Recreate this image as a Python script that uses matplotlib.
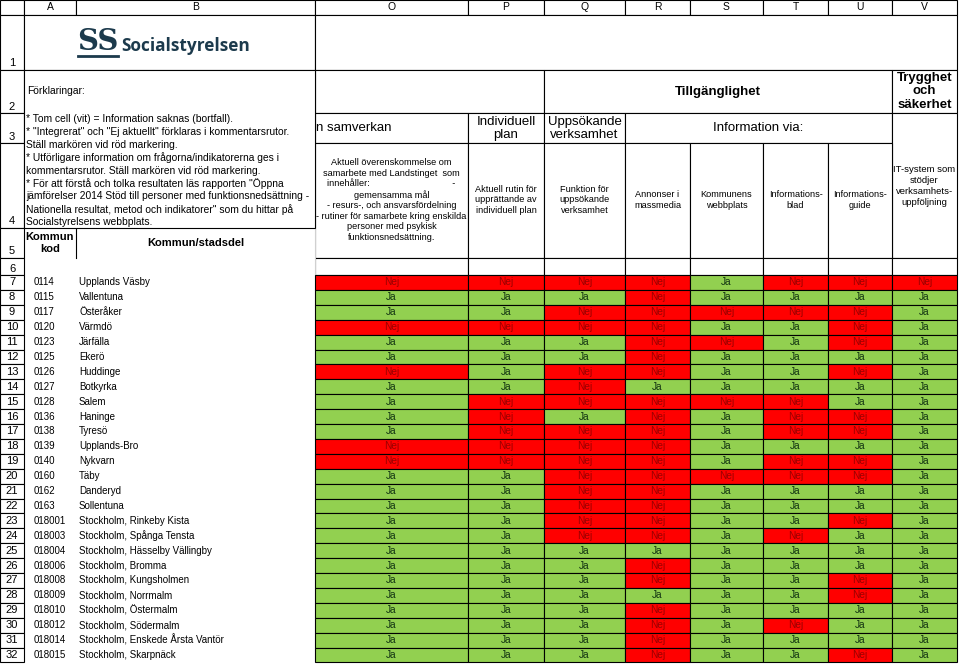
import matplotlib
matplotlib.use("Agg")
import matplotlib.pyplot as plt
from matplotlib.patches import Rectangle
from matplotlib import font_manager

names_avail = {f.name for f in font_manager.fontManager.ttflist}
SANS = "Liberation Sans" if "Liberation Sans" in names_avail else "DejaVu Sans"
NARROW = "Liberation Sans Narrow" if "Liberation Sans Narrow" in names_avail else SANS
plt.rcParams["font.family"] = [SANS, "DejaVu Sans"]

# ---- data ----
kommunkod = ["0114", "0115", "0117", "0120", "0123", "0125", "0126", "0127", "0128",
             "0136", "0138", "0139", "0140", "0160", "0162", "0163", "018001", "018003",
             "018004", "018006", "018008", "018009", "018010", "018012", "018014", "018015"]
kommun = ["Upplands Väsby", "Vallentuna", "Österåker", "Värmdö", "Järfälla", "Ekerö",
          "Huddinge", "Botkyrka", "Salem", "Haninge", "Tyresö", "Upplands-Bro", "Nykvarn",
          "Täby", "Danderyd", "Sollentuna", "Stockholm, Rinkeby Kista",
          "Stockholm, Spånga Tensta", "Stockholm, Hässelby Vällingby", "Stockholm, Bromma",
          "Stockholm, Kungsholmen", "Stockholm, Norrmalm", "Stockholm, Östermalm",
          "Stockholm, Södermalm", "Stockholm, Enskede Årsta Vantör", "Stockholm, Skarpnäck"]

overenskommelse = "Nej Ja Ja Nej Ja Ja Nej Ja Ja Ja Ja Nej Nej Ja Ja Ja Ja Ja Ja Ja Ja Ja Ja Ja Ja Ja".split()
rutin_ip = "Nej Ja Ja Nej Ja Ja Ja Ja Nej Nej Nej Nej Nej Ja Ja Ja Ja Ja Ja Ja Ja Ja Ja Ja Ja Ja".split()
uppsokande = "Nej Ja Nej Nej Ja Ja Nej Nej Nej Ja Nej Nej Nej Nej Nej Nej Nej Nej Ja Ja Ja Ja Ja Ja Ja Ja".split()
annonser = "Nej Nej Nej Nej Nej Nej Nej Ja Nej Nej Nej Nej Nej Nej Nej Nej Nej Nej Ja Nej Nej Ja Nej Nej Nej Nej".split()
webbplats = "Ja Ja Nej Ja Nej Ja Ja Ja Nej Ja Ja Ja Ja Nej Ja Ja Ja Ja Ja Ja Ja Ja Ja Ja Ja Ja".split()
infoblad = "Nej Ja Nej Ja Ja Ja Ja Ja Nej Nej Nej Ja Nej Nej Ja Ja Ja Nej Ja Ja Ja Ja Ja Nej Ja Ja".split()
infoguide = "Nej Ja Nej Nej Nej Ja Nej Ja Ja Nej Nej Ja Nej Nej Ja Ja Nej Ja Ja Ja Nej Nej Ja Ja Ja Nej".split()
it_system = "Nej Ja Ja Ja Ja Ja Ja Ja Ja Ja Ja Ja Ja Ja Ja Ja Ja Ja Ja Ja Ja Ja Ja Ja Ja Ja".split()

svar = [overenskommelse, rutin_ip, uppsokande, annonser, webbplats, infoblad, infoguide, it_system]

col_letters = ["A", "B", "O", "P", "Q", "R", "S", "T", "U", "V"]
beskrivning = [
    "Aktuell överenskommelse om\nsamarbete med Landstinget  som\ninnehåller:                                 -\n"
    "gemensamma mål\n- resurs-, och ansvarsfördelning\n- rutiner för samarbete kring enskilda\n"
    "personer med psykisk\nfunktionsnedsättning.",
    "Aktuell rutin för\nupprättande av\nindividuell plan",
    "Funktion för\nuppsökande\nverksamhet",
    "Annonser i\nmassmedia",
    "Kommunens\nwebbplats",
    "Informations-\nblad",
    "Informations-\nguide",
]
forklaringar = [
    '* Tom cell (vit) = Information saknas (bortfall).',
    '* "Integrerat" och "Ej aktuellt" förklaras i kommentarsrutor.',
    'Ställ markören vid röd markering.',
    '* Utförligare information om frågorna/indikatorerna ges i',
    'kommentarsrutor. Ställ markören vid röd markering.',
    '* För att förstå och tolka resultaten läs rapporten "Öppna',
    'jämförelser 2014 Stöd till personer med funktionsnedsättning -',
    'Nationella resultat, metod och indikatorer" som du hittar på',
    'Socialstyrelsens webbplats.',
]

# ---- layout (pixels) ----
xe = [0, 24, 76, 315, 468, 544, 625, 690, 763, 828, 892, 957]   # column edges
ye = [0, 15, 70, 113, 143, 228, 258, 275]                         # band, rows 1-6
rh = 14.9
GREEN = "#92D050"
RED = "#FF0000"
LW = 0.8

fig = plt.figure(figsize=(9.6, 6.65), dpi=100)
ax = fig.add_axes([0, 0, 1, 1])
ax.set_xlim(0, 960)
ax.set_ylim(665, 0)
ax.axis("off")


def box(x0, x1, y0, y1, fc="white", lw=LW, ec="black", z=1):
    ax.add_patch(Rectangle((x0, y0), x1 - x0, y1 - y0, facecolor=fc, edgecolor=ec, lw=lw, zorder=z))


def cx(i):
    return (xe[i] + xe[i + 1]) / 2


# column letter band
box(xe[0], xe[1], ye[0], ye[1])
for i, c in enumerate(col_letters):
    box(xe[i + 1], xe[i + 2], ye[0], ye[1])
    ax.text(cx(i + 1), 7.5, c, ha="center", va="center", fontsize=7.5, zorder=5)

# row number boxes
row_bounds = [(ye[k], ye[k + 1]) for k in range(1, 7)]
row_bounds += [(ye[7] + rh * i, ye[7] + rh * (i + 1)) for i in range(len(kommun))]
for n, (y0, y1) in enumerate(row_bounds, start=1):
    box(xe[0], xe[1], y0, y1)
    if n <= 6:
        ax.text(12, y1 - 1.5, str(n), ha="center", va="bottom", fontsize=8, zorder=5)
    else:
        ax.text(12, (y0 + y1) / 2, str(n), ha="center", va="center", fontsize=8, zorder=5)

# row 1: logo and empty merged block
box(xe[1], xe[3], ye[1], ye[2])
box(xe[3], xe[11], ye[1], ye[2])
navy = "#1c3a4c"
ax.text(98, 41, "SS", ha="center", va="center", fontsize=21, fontweight="bold",
        family="DejaVu Serif", color=navy, zorder=5)
ax.plot([78, 118], [56, 56], color=navy, lw=2, zorder=5)
ax.text(121, 46, "Socialstyrelsen", ha="left", va="center", fontsize=12.4,
        fontweight="bold", family=["Open Sans", SANS], color=navy, zorder=5)

# row 2 headers
box(xe[3], xe[5], ye[2], ye[3])
box(xe[5], xe[10], ye[2], ye[3])
ax.text((xe[5] + xe[10]) / 2, (ye[2] + ye[3]) / 2, "Tillgänglighet", ha="center", va="center",
        fontsize=9.5, fontweight="bold", zorder=5)
box(xe[10], xe[11], ye[2], ye[3])
ax.text(cx(10), (ye[2] + ye[3]) / 2, "Trygghet\noch\nsäkerhet", ha="center", va="center",
        fontsize=9.5, fontweight="bold", linespacing=1.2, zorder=5)

# row 3 headers
box(xe[3], xe[4], ye[3], ye[4])
ax.text(xe[3] + 1, (ye[3] + ye[4]) / 2, "n samverkan", ha="left", va="center", fontsize=9.5, zorder=5)
box(xe[4], xe[5], ye[3], ye[4])
ax.text(cx(4), (ye[3] + ye[4]) / 2 + 0.5, "Individuell\nplan", ha="center", va="center",
        fontsize=9.5, linespacing=1.15, zorder=5)
box(xe[5], xe[6], ye[3], ye[4])
ax.text(cx(5), (ye[3] + ye[4]) / 2 + 0.5, "Uppsökande\nverksamhet", ha="center", va="center",
        fontsize=9.5, linespacing=1.15, zorder=5)
box(xe[6], xe[10], ye[3], ye[4])
ax.text((xe[6] + xe[10]) / 2, (ye[3] + ye[4]) / 2, "Information via:", ha="center", va="center",
        fontsize=9.5, zorder=5)
box(xe[10], xe[11], ye[3], ye[6])
ax.text(cx(10), 186, "IT-system som\nstödjer\nverksamhets-\nuppföljning", ha="center", va="center",
        fontsize=6.8, family=[NARROW, SANS], linespacing=1.25, zorder=5)

# rows 4-5 descriptions
for j, txt in enumerate(beskrivning):
    box(xe[3 + j], xe[4 + j], ye[4], ye[6])
    ax.text(cx(3 + j), 200, txt, ha="center", va="center", fontsize=6.6,
            family=[NARROW, SANS], linespacing=1.22, zorder=5)

# row 5 A-B headers
ax.plot([xe[2], xe[2]], [ye[5], ye[6]], color="black", lw=LW, zorder=3)
ax.text(cx(1), (ye[5] + ye[6]) / 2, "Kommun\nkod", ha="center", va="center", fontsize=8,
        fontweight="bold", linespacing=1.2, zorder=5)
ax.text(cx(2), (ye[5] + ye[6]) / 2, "Kommun/stadsdel", ha="center", va="center", fontsize=8,
        fontweight="bold", zorder=5)

# row 6 empty cells
for i in range(3, 11):
    box(xe[i], xe[i + 1], ye[6], ye[7], lw=LW)
ax.plot([xe[3], xe[3]], [ye[5], ye[7]], color="white", lw=1.2, zorder=2)
ax.plot([xe[3], xe[3]], [ye[5], ye[7]], color="#d0d0d0", lw=0.6, zorder=2)

# explanation text box covering A-B rows 2-4
box(xe[1], xe[3], ye[2], ye[5], z=4)
ax.text(27, 91, "Förklaringar:", ha="left", va="center", fontsize=7.4, zorder=5)
for k, line in enumerate(forklaringar):
    ax.text(26, 119 + k * 12.9, line, ha="left", va="center", fontsize=7.4, zorder=5)

# data rows
for i in range(len(kommun)):
    y0 = ye[7] + rh * i
    ym = y0 + rh / 2
    ax.text(34, ym, kommunkod[i], ha="left", va="center", fontsize=7, zorder=5)
    ax.text(79, ym, kommun[i], ha="left", va="center", fontsize=7, zorder=5)
    for j, kol in enumerate(svar):
        v = kol[i]
        box(xe[3 + j], xe[4 + j], y0, y0 + rh, fc=GREEN if v == "Ja" else RED, z=2)
        ax.text(cx(3 + j), ym, v, ha="center", va="center", fontsize=7.3, zorder=5,
                family=[NARROW, SANS], color="#123312" if v == "Ja" else "#9a0000")

fig.savefig("out.png", dpi=100)
